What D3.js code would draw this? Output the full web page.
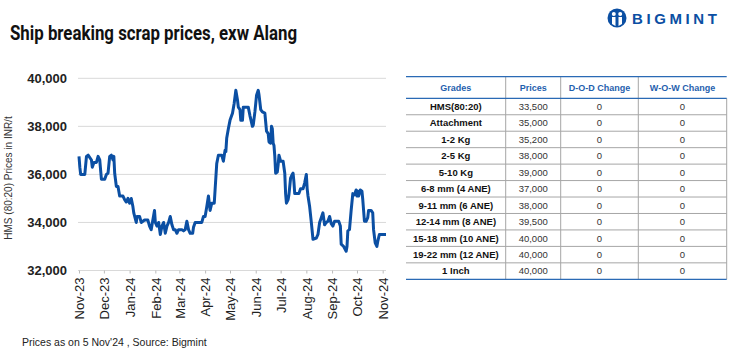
<!DOCTYPE html>
<html>
<head>
<meta charset="utf-8">
<script src="https://cdn.jsdelivr.net/npm/d3@7"></script>
<style>
  body { margin: 0; background: #fff; }
  svg { display: block; font-family: "Liberation Sans", Arial, sans-serif; }
</style>
</head>
<body>
<svg id="chart" width="739" height="353"></svg>
<script>
// Ship breaking scrap prices, exw Alang — HMS (80:20) daily series + grade table

const dates = [
  "2023-11-01","2023-11-02","2023-11-03","2023-11-08","2023-11-10","2023-11-12","2023-11-16","2023-11-17",
  "2023-11-19","2023-11-22","2023-11-24","2023-11-26","2023-11-27","2023-11-28","2023-12-02","2023-12-04",
  "2023-12-06","2023-12-08","2023-12-10","2023-12-12","2023-12-13","2023-12-14","2023-12-16","2023-12-18",
  "2023-12-20","2023-12-24","2023-12-26","2023-12-28","2023-12-30","2024-01-01","2024-01-03","2024-01-05",
  "2024-01-06","2024-01-09","2024-01-10","2024-01-13","2024-01-15","2024-01-19","2024-01-23","2024-01-25",
  "2024-01-27","2024-01-29","2024-01-31","2024-02-01","2024-02-03","2024-02-05","2024-02-07","2024-02-09",
  "2024-02-11","2024-02-13","2024-02-15","2024-02-17","2024-02-19","2024-02-21","2024-02-23","2024-02-25",
  "2024-02-27","2024-02-29","2024-03-04","2024-03-06","2024-03-08","2024-03-10","2024-03-12","2024-03-14",
  "2024-03-17","2024-03-18","2024-03-20","2024-03-28","2024-03-30","2024-04-01","2024-04-03","2024-04-05",
  "2024-04-07","2024-04-09","2024-04-12","2024-04-13","2024-04-15","2024-04-17","2024-04-21","2024-04-23",
  "2024-04-25","2024-04-26","2024-04-27","2024-04-29","2024-05-01","2024-05-03","2024-05-04","2024-05-06",
  "2024-05-08","2024-05-10","2024-05-11","2024-05-13","2024-05-14","2024-05-16","2024-05-17","2024-05-23",
  "2024-05-25","2024-05-28","2024-05-29","2024-05-31","2024-06-02","2024-06-04","2024-06-05","2024-06-07",
  "2024-06-09","2024-06-12","2024-06-14","2024-06-16","2024-06-17","2024-06-19","2024-06-20","2024-06-21",
  "2024-06-22","2024-06-23","2024-06-24","2024-06-25","2024-06-27","2024-06-28","2024-06-29","2024-07-01",
  "2024-07-04","2024-07-06","2024-07-07","2024-07-08","2024-07-10","2024-07-11","2024-07-13","2024-07-15",
  "2024-07-16","2024-07-17","2024-07-18","2024-07-23","2024-07-25","2024-07-28","2024-07-30","2024-08-01",
  "2024-08-02","2024-08-03","2024-08-05","2024-08-07","2024-08-09","2024-08-13","2024-08-15","2024-08-17",
  "2024-08-19","2024-08-21","2024-08-23","2024-08-25","2024-08-27","2024-08-29","2024-08-31","2024-09-02",
  "2024-09-04","2024-09-09","2024-09-11","2024-09-12","2024-09-15","2024-09-18","2024-09-19","2024-09-20",
  "2024-09-22","2024-09-24","2024-09-26","2024-09-28","2024-09-30","2024-10-01","2024-10-02","2024-10-03",
  "2024-10-05","2024-10-07","2024-10-08","2024-10-10","2024-10-12","2024-10-14","2024-10-15","2024-10-18",
  "2024-10-20","2024-10-21","2024-10-23","2024-10-25","2024-10-26","2024-10-28","2024-11-01","2024-11-05"
];

const prices = [
  36750,36300,36000,36000,36750,36800,36600,36300,
  36500,36500,36750,36600,36200,35800,35800,36000,
  36050,36750,36800,36600,36750,36050,35500,35500,
  35100,35100,34950,34850,35000,34800,35000,34650,
  34400,34000,34250,34250,34000,34100,34100,33850,
  33700,34100,34500,34000,33850,34000,33500,33850,
  34000,33550,33850,34000,34250,33900,33700,33700,
  33550,33700,33700,33650,33700,34050,33700,33550,
  33550,33800,34000,34000,34250,34250,34650,35100,
  34500,34800,34800,35350,36450,36800,36800,36550,
  37000,36950,37500,37900,38250,38450,38550,38950,
  39500,39100,38800,38700,38250,38250,38800,38800,
  38450,38000,38050,38600,39300,39500,39300,38700,
  38600,38550,37800,37700,37350,37300,38000,37900,
  37300,37200,36750,36050,36100,36400,36800,36550,
  36550,36050,35200,34800,34950,35150,35850,36000,
  36050,35700,35200,35200,35400,35400,35650,36000,
  35400,35100,34650,34000,33300,33350,33500,34000,
  34200,34400,33900,34000,34050,34250,33950,33850,
  34050,34050,33850,33100,33000,32800,33000,33650,
  33700,34500,35200,35150,35350,35100,35300,35100,
  35350,35300,34950,34050,34050,34200,34500,34500,
  34400,33700,33150,33000,33200,33500,33500,33500
];

const yTicks = [32000, 34000, 36000, 38000, 40000];

const tableHeaders = ["Grades", "Prices", "D-O-D Change", "W-O-W Change"];
const grades = ["HMS(80:20)", "Attachment", "1-2 Kg", "2-5 Kg", "5-10 Kg", "6-8 mm (4 ANE)",
  "9-11 mm (6 ANE)", "12-14 mm (8 ANE)", "15-18 mm (10 ANE)", "19-22 mm (12 ANE)", "1 Inch"];
const gradePrices = [33500, 35000, 35200, 38000, 39000, 37000, 38000, 39500, 40000, 40000, 40000];
const dodChange = [0, 0, 0, 0, 0, 0, 0, 0, 0, 0, 0];
const wowChange = [0, 0, 0, 0, 0, 0, 0, 0, 0, 0, 0];

const BLUE = "#0b4fa3";
const HEAD = "#1f5fae";
const GRID = "#d9d9d9";

const svg = d3.select("#chart");
svg.append("rect").attr("width", 739).attr("height", 353).attr("fill", "#fff");

// Title
svg.append("text")
  .attr("x", 10).attr("y", 40)
  .attr("font-family", "Roboto, 'Liberation Sans', sans-serif")
  .attr("font-size", 21).attr("font-weight", 700)
  .attr("fill", "#111")
  .attr("textLength", 287).attr("lengthAdjust", "spacingAndGlyphs")
  .text("Ship breaking scrap prices, exw Alang");

// Logo
const logo = svg.append("g").attr("transform", "translate(617,18)");
logo.append("circle").attr("r", 9.5).attr("fill", BLUE);
logo.append("circle").attr("cx", -3.2).attr("cy", -4).attr("r", 2).attr("fill", "#fff");
logo.append("circle").attr("cx", 3.2).attr("cy", -4).attr("r", 2).attr("fill", "#fff");
logo.append("path")
  .attr("d", "M-5,-1 L-1.5,-1 L-1.5,8 L-5,6 Z M5,-1 L1.5,-1 L1.5,8 L5,6 Z")
  .attr("fill", "#fff");
svg.append("text")
  .attr("x", 632).attr("y", 24)
  .attr("font-size", 15).attr("font-weight", 700)
  .attr("letter-spacing", 3.6)
  .attr("fill", BLUE)
  .text("BIGMINT");

// Chart
const x = d3.scaleTime()
  .domain([new Date(2023, 10, 1), new Date(2024, 10, 5)])
  .range([79, 386]);
const y = d3.scaleLinear()
  .domain([32000, 40000])
  .range([270.5, 78.3]);

const parse = d3.timeParse("%Y-%m-%d");
const series = dates.map((d, i) => ({ date: parse(d), v: prices[i] }));

// Horizontal gridlines
svg.append("g")
  .selectAll("line")
  .data(yTicks)
  .join("line")
  .attr("x1", 78).attr("x2", 386)
  .attr("y1", d => y(d)).attr("y2", d => y(d))
  .attr("stroke", GRID).attr("stroke-width", 1);

// Y labels
svg.append("g")
  .selectAll("text")
  .data(yTicks)
  .join("text")
  .attr("x", 67).attr("y", d => y(d))
  .attr("dy", "0.36em")
  .attr("text-anchor", "end")
  .attr("font-size", 13).attr("font-weight", 700)
  .attr("fill", "#222")
  .text(d3.format(","));

// Y title
svg.append("text")
  .attr("transform", "translate(12,178) rotate(-90)")
  .attr("text-anchor", "middle")
  .attr("font-size", 10).attr("fill", "#333")
  .text("HMS (80:20) Prices in INR/t");

// X axis
const xAxis = svg.append("g")
  .attr("transform", `translate(0,${y(32000)})`)
  .call(d3.axisBottom(x)
    .ticks(d3.timeMonth.every(1))
    .tickSize(3)
    .tickFormat(d3.timeFormat("%b-%y")));
xAxis.select(".domain").remove();
xAxis.selectAll(".tick line").attr("stroke", "#bbb");
xAxis.selectAll(".tick text")
  .attr("transform", "rotate(-90)")
  .attr("x", -7).attr("y", 0).attr("dy", "0.36em")
  .attr("text-anchor", "end")
  .attr("font-family", "'Liberation Sans', Arial, sans-serif")
  .attr("font-size", 13).attr("fill", "#222");

// Price line
svg.append("path")
  .datum(series)
  .attr("fill", "none")
  .attr("stroke", BLUE)
  .attr("stroke-width", 3)
  .attr("stroke-linejoin", "round")
  .attr("d", d3.line().x(d => x(d.date)).y(d => y(d.v)));

// Footer
svg.append("text")
  .attr("x", 22).attr("y", 346)
  .attr("font-size", 10.5).attr("fill", "#222")
  .text("Prices as on 5 Nov'24 , Source: Bigmint");

// Table
const colX = [406, 505.7, 560.7, 638.3, 726.7];
const headTop = 76.7, headBot = 98.3, tableBot = 279.3;
const rowH = (tableBot - headBot) / grades.length;
const rows = grades.map((g, i) => [g, d3.format(",")(gradePrices[i]), dodChange[i], wowChange[i]]);

const tbl = svg.append("g");

// inner vertical separators
tbl.selectAll("line.col")
  .data(colX.slice(1))
  .join("line")
  .attr("class", "col")
  .attr("x1", d => d).attr("x2", d => d)
  .attr("y1", (d, i) => i === 3 ? headBot : headTop).attr("y2", tableBot)
  .attr("stroke", "#a6a6a6").attr("stroke-width", 1);

// row separators
tbl.selectAll("line.row")
  .data(d3.range(1, grades.length))
  .join("line")
  .attr("class", "row")
  .attr("x1", colX[0]).attr("x2", colX[4])
  .attr("y1", d => headBot + d * rowH).attr("y2", d => headBot + d * rowH)
  .attr("stroke", "#a6a6a6").attr("stroke-width", 1);

// blue rules
tbl.selectAll("line.blue")
  .data([headTop, headBot, tableBot])
  .join("line")
  .attr("class", "blue")
  .attr("x1", colX[0]).attr("x2", colX[4])
  .attr("y1", d => d).attr("y2", d => d)
  .attr("stroke", "#2a6ab5").attr("stroke-width", 1.3);

// headers
tbl.selectAll("text.head")
  .data(tableHeaders)
  .join("text")
  .attr("class", "head")
  .attr("x", (d, i) => (colX[i] + colX[i + 1]) / 2)
  .attr("y", (headTop + headBot) / 2)
  .attr("dy", "0.36em")
  .attr("text-anchor", "middle")
  .attr("font-size", 9).attr("font-weight", 700)
  .attr("fill", HEAD)
  .text(d => d);

// body cells
tbl.selectAll("g.r")
  .data(rows)
  .join("g")
  .attr("class", "r")
  .attr("transform", (d, i) => `translate(0,${headBot + (i + 0.5) * rowH})`)
  .selectAll("text")
  .data(d => d)
  .join("text")
  .attr("x", (d, i) => (colX[i] + colX[i + 1]) / 2)
  .attr("dy", "0.36em")
  .attr("text-anchor", "middle")
  .attr("font-size", 9.5)
  .attr("font-weight", (d, i) => i === 0 ? 700 : 400)
  .attr("fill", (d, i) => i === 0 ? "#111" : "#333")
  .text(d => d);
</script>
</body>
</html>
